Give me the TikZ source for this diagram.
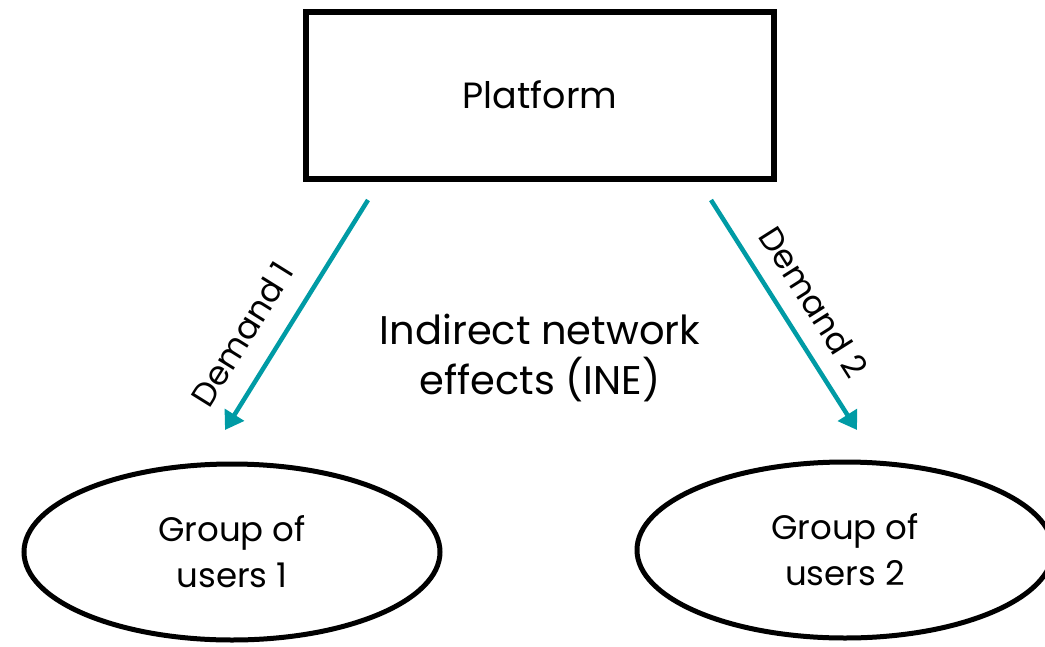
\documentclass[tikz,border=0pt]{standalone}
\usepackage{fontspec}
\setmainfont{Poppins}
\usetikzlibrary{arrows.meta,shapes.geometric}
\definecolor{teal}{RGB}{0,155,165}
\tikzset{
  box/.style={draw=black, line width=6pt, minimum width=468pt, minimum height=167pt, inner sep=0pt, font=\fontsize{36.5}{40}\selectfont},
  grp/.style={draw=black, line width=5pt, ellipse, minimum width=416pt, minimum height=176pt, inner sep=0pt, align=center, font=\fontsize{34}{46}\selectfont},
  demand/.style={draw=teal, line width=4.5pt, -{Triangle[length=18pt,width=22pt]}},
  dlabel/.style={inner sep=0pt, font=\fontsize{33}{36}\selectfont},
  center text/.style={align=center, font=\fontsize{40}{50}\selectfont}
}
\begin{document}
\begin{tikzpicture}[x=1pt, y=-1pt]
  \useasboundingbox (0,0) rectangle (1045,646);
  \node[box] (plat) at (540,95) {Platform};
  \node[grp] (g1) at (232,552) {Group of\\users 1};
  \node[grp] (g2) at (845,550) {Group of\\users 2};
  \node[center text] (ine) at (540,358) {Indirect network\\effects (INE)};
  \coordinate (d1s) at (368,200);
  \coordinate (d1e) at (225,430);
  \coordinate (d2s) at (711,200);
  \coordinate (d2e) at (857,430);
  \draw[demand] (d1s) -- (d1e);
  \draw[demand] (d2s) -- (d2e);
  \node[dlabel, rotate=58.1] (l1) at (242,334) {Demand 1};
  \node[dlabel, rotate=-57.6] (l2) at (814,302) {Demand 2};
\end{tikzpicture}
\end{document}
